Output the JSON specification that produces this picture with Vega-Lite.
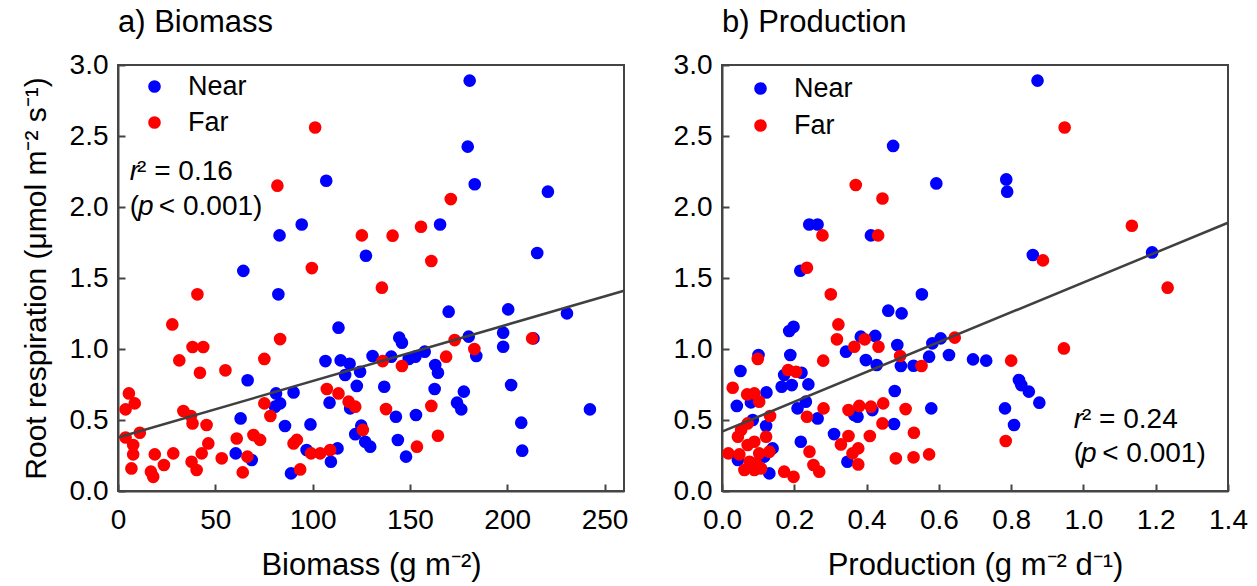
{
  "$schema": "https://vega.github.io/schema/vega-lite/v6.json",
  "background": "white",
  "padding": {"left": 20, "top": 6, "right": 5, "bottom": 2},
  "config": {
    "font": "Liberation Sans",
    "view": {"stroke": "#444444", "strokeWidth": 2},
    "axis": {"domainColor": "#444444", "domainWidth": 2, "tickColor": "#444444", "tickWidth": 2, "labelFontSize": 28, "labelColor": "black", "titleFontSize": 30, "titleFontWeight": "normal", "titleColor": "black", "grid": false, "labelFlush": false, "labelOverlap": false},
    "title": {"fontSize": 31, "fontWeight": "normal", "anchor": "start", "frame": "group", "color": "black"},
    "legend": {"labelFontSize": 27, "labelColor": "black"}
  },
  "datasets": {
    "bio": [
      {"b": 107, "r": 2.185, "g": "Near"}, {"b": 94.4, "r": 1.877, "g": "Near"}, {"b": 83, "r": 1.8, "g": "Near"}, {"b": 127.4, "r": 1.657, "g": "Near"}, {"b": 64.4, "r": 1.55, "g": "Near"},
      {"b": 180.7, "r": 2.89, "g": "Near"}, {"b": 179.7, "r": 2.425, "g": "Near"}, {"b": 183.3, "r": 2.16, "g": "Near"}, {"b": 220.9, "r": 2.108, "g": "Near"}, {"b": 165.5, "r": 1.877, "g": "Near"},
      {"b": 215.4, "r": 1.676, "g": "Near"}, {"b": 82.4, "r": 1.385, "g": "Near"}, {"b": 113.3, "r": 1.15, "g": "Near"}, {"b": 106.6, "r": 0.915, "g": "Near"}, {"b": 114.4, "r": 0.92, "g": "Near"},
      {"b": 119, "r": 0.896, "g": "Near"}, {"b": 116.7, "r": 0.817, "g": "Near"}, {"b": 124.4, "r": 0.84, "g": "Near"}, {"b": 122.7, "r": 0.74, "g": "Near"}, {"b": 119.3, "r": 0.582, "g": "Near"},
      {"b": 108.7, "r": 0.622, "g": "Near"}, {"b": 66.6, "r": 0.78, "g": "Near"}, {"b": 81.2, "r": 0.687, "g": "Near"}, {"b": 83.3, "r": 0.617, "g": "Near"}, {"b": 90.2, "r": 0.694, "g": "Near"},
      {"b": 80.7, "r": 0.594, "g": "Near"}, {"b": 63, "r": 0.511, "g": "Near"}, {"b": 85.8, "r": 0.458, "g": "Near"}, {"b": 98.9, "r": 0.469, "g": "Near"}, {"b": 125, "r": 0.46, "g": "Near"},
      {"b": 121.9, "r": 0.4, "g": "Near"}, {"b": 127, "r": 0.347, "g": "Near"}, {"b": 129.6, "r": 0.312, "g": "Near"}, {"b": 60.5, "r": 0.265, "g": "Near"}, {"b": 68.7, "r": 0.218, "g": "Near"},
      {"b": 88.9, "r": 0.124, "g": "Near"}, {"b": 96.9, "r": 0.289, "g": "Near"}, {"b": 112.8, "r": 0.3, "g": "Near"}, {"b": 109.4, "r": 0.206, "g": "Near"}, {"b": 169.9, "r": 1.263, "g": "Near"},
      {"b": 200.5, "r": 1.279, "g": "Near"}, {"b": 230.7, "r": 1.251, "g": "Near"}, {"b": 213.5, "r": 1.075, "g": "Near"}, {"b": 144.5, "r": 1.08, "g": "Near"}, {"b": 145.9, "r": 1.044, "g": "Near"},
      {"b": 180.2, "r": 1.087, "g": "Near"}, {"b": 184.1, "r": 0.951, "g": "Near"}, {"b": 197.9, "r": 1.115, "g": "Near"}, {"b": 197.9, "r": 1.016, "g": "Near"}, {"b": 130.8, "r": 0.951, "g": "Near"},
      {"b": 140.4, "r": 0.946, "g": "Near"}, {"b": 149.4, "r": 0.93, "g": "Near"}, {"b": 152.8, "r": 0.946, "g": "Near"}, {"b": 157.6, "r": 0.981, "g": "Near"}, {"b": 163, "r": 0.887, "g": "Near"},
      {"b": 164.4, "r": 0.833, "g": "Near"}, {"b": 136.8, "r": 0.734, "g": "Near"}, {"b": 162.7, "r": 0.718, "g": "Near"}, {"b": 177.7, "r": 0.7, "g": "Near"}, {"b": 202, "r": 0.746, "g": "Near"},
      {"b": 174.2, "r": 0.622, "g": "Near"}, {"b": 176.4, "r": 0.575, "g": "Near"}, {"b": 142.8, "r": 0.523, "g": "Near"}, {"b": 153.1, "r": 0.535, "g": "Near"}, {"b": 242.5, "r": 0.575, "g": "Near"},
      {"b": 207.2, "r": 0.481, "g": "Near"}, {"b": 207.7, "r": 0.284, "g": "Near"}, {"b": 143.8, "r": 0.359, "g": "Near"}, {"b": 148, "r": 0.242, "g": "Near"},
      {"b": 101.3, "r": 2.56, "g": "Far"}, {"b": 81.9, "r": 2.15, "g": "Far"}, {"b": 125.3, "r": 1.8, "g": "Far"}, {"b": 99.6, "r": 1.57, "g": "Far"}, {"b": 171, "r": 2.056, "g": "Far"},
      {"b": 155.7, "r": 1.861, "g": "Far"}, {"b": 141.1, "r": 1.798, "g": "Far"}, {"b": 161, "r": 1.62, "g": "Far"}, {"b": 135.6, "r": 1.432, "g": "Far"}, {"b": 40.8, "r": 1.385, "g": "Far"},
      {"b": 27.9, "r": 1.173, "g": "Far"}, {"b": 83.3, "r": 1.07, "g": "Far"}, {"b": 38.3, "r": 1.014, "g": "Far"}, {"b": 43.8, "r": 1.014, "g": "Far"}, {"b": 31.5, "r": 0.92, "g": "Far"},
      {"b": 75.2, "r": 0.93, "g": "Far"}, {"b": 42.1, "r": 0.833, "g": "Far"}, {"b": 55.2, "r": 0.85, "g": "Far"}, {"b": 107.3, "r": 0.718, "g": "Far"}, {"b": 113.3, "r": 0.687, "g": "Far"},
      {"b": 118.5, "r": 0.629, "g": "Far"}, {"b": 121.9, "r": 0.594, "g": "Far"}, {"b": 75.2, "r": 0.617, "g": "Far"}, {"b": 78.3, "r": 0.528, "g": "Far"}, {"b": 125.8, "r": 0.43, "g": "Far"},
      {"b": 5.6, "r": 0.687, "g": "Far"}, {"b": 8.6, "r": 0.617, "g": "Far"}, {"b": 3.9, "r": 0.575, "g": "Far"}, {"b": 33.6, "r": 0.563, "g": "Far"}, {"b": 37.5, "r": 0.528, "g": "Far"},
      {"b": 38.3, "r": 0.476, "g": "Far"}, {"b": 45.5, "r": 0.465, "g": "Far"}, {"b": 11.2, "r": 0.41, "g": "Far"}, {"b": 3.9, "r": 0.377, "g": "Far"}, {"b": 7.8, "r": 0.324, "g": "Far"},
      {"b": 7.8, "r": 0.258, "g": "Far"}, {"b": 6.9, "r": 0.159, "g": "Far"}, {"b": 18.9, "r": 0.258, "g": "Far"}, {"b": 23.6, "r": 0.183, "g": "Far"}, {"b": 28.4, "r": 0.265, "g": "Far"},
      {"b": 16.9, "r": 0.136, "g": "Far"}, {"b": 18.1, "r": 0.1, "g": "Far"}, {"b": 37.8, "r": 0.206, "g": "Far"}, {"b": 40.4, "r": 0.148, "g": "Far"}, {"b": 43, "r": 0.265, "g": "Far"},
      {"b": 46.4, "r": 0.335, "g": "Far"}, {"b": 53.3, "r": 0.23, "g": "Far"}, {"b": 61, "r": 0.37, "g": "Far"}, {"b": 64.1, "r": 0.131, "g": "Far"}, {"b": 66.5, "r": 0.242, "g": "Far"},
      {"b": 69.6, "r": 0.394, "g": "Far"}, {"b": 73, "r": 0.36, "g": "Far"}, {"b": 90.2, "r": 0.335, "g": "Far"}, {"b": 91.9, "r": 0.36, "g": "Far"}, {"b": 93.6, "r": 0.152, "g": "Far"},
      {"b": 99.2, "r": 0.265, "g": "Far"}, {"b": 103.9, "r": 0.265, "g": "Far"}, {"b": 109, "r": 0.289, "g": "Far"}, {"b": 212.8, "r": 1.075, "g": "Far"}, {"b": 173, "r": 1.063, "g": "Far"},
      {"b": 183.1, "r": 1.0, "g": "Far"}, {"b": 136, "r": 0.915, "g": "Far"}, {"b": 145.9, "r": 0.88, "g": "Far"}, {"b": 168.6, "r": 0.946, "g": "Far"}, {"b": 161, "r": 0.599, "g": "Far"},
      {"b": 137.7, "r": 0.577, "g": "Far"}, {"b": 164.4, "r": 0.389, "g": "Far"}, {"b": 153.6, "r": 0.312, "g": "Far"}
    ],
    "prod": [
      {"p": 0.4735, "r": 2.43, "g": "Near"}, {"p": 0.593, "r": 2.166, "g": "Near"}, {"p": 0.2414, "r": 1.877, "g": "Near"}, {"p": 0.2644, "r": 1.877, "g": "Near"}, {"p": 0.412, "r": 1.8, "g": "Near"},
      {"p": 0.2166, "r": 1.551, "g": "Near"}, {"p": 0.873, "r": 2.89, "g": "Near"}, {"p": 0.7865, "r": 2.194, "g": "Near"}, {"p": 0.789, "r": 2.108, "g": "Near"}, {"p": 0.86, "r": 1.662, "g": "Near"},
      {"p": 1.19, "r": 1.68, "g": "Near"}, {"p": 0.6945, "r": 0.927, "g": "Near"}, {"p": 0.731, "r": 0.918, "g": "Near"}, {"p": 0.8216, "r": 0.782, "g": "Near"}, {"p": 0.828, "r": 0.746, "g": "Near"},
      {"p": 0.849, "r": 0.7, "g": "Near"}, {"p": 0.878, "r": 0.622, "g": "Near"}, {"p": 0.783, "r": 0.582, "g": "Near"}, {"p": 0.808, "r": 0.465, "g": "Near"}, {"p": 0.553, "r": 1.385, "g": "Near"},
      {"p": 0.46, "r": 1.27, "g": "Near"}, {"p": 0.497, "r": 1.251, "g": "Near"}, {"p": 0.186, "r": 1.127, "g": "Near"}, {"p": 0.198, "r": 1.157, "g": "Near"}, {"p": 0.384, "r": 1.087, "g": "Near"},
      {"p": 0.424, "r": 1.092, "g": "Near"}, {"p": 0.343, "r": 0.981, "g": "Near"}, {"p": 0.485, "r": 1.028, "g": "Near"}, {"p": 0.398, "r": 0.922, "g": "Near"}, {"p": 0.428, "r": 0.887, "g": "Near"},
      {"p": 0.495, "r": 0.88, "g": "Near"}, {"p": 0.53, "r": 0.882, "g": "Near"}, {"p": 0.573, "r": 0.946, "g": "Near"}, {"p": 0.582, "r": 1.04, "g": "Near"}, {"p": 0.605, "r": 1.075, "g": "Near"},
      {"p": 0.628, "r": 0.958, "g": "Near"}, {"p": 0.579, "r": 0.582, "g": "Near"}, {"p": 0.478, "r": 0.704, "g": "Near"}, {"p": 0.476, "r": 0.472, "g": "Near"}, {"p": 0.416, "r": 0.57, "g": "Near"},
      {"p": 0.366, "r": 0.535, "g": "Near"}, {"p": 0.375, "r": 0.523, "g": "Near"}, {"p": 0.347, "r": 0.206, "g": "Near"}, {"p": 0.31, "r": 0.401, "g": "Near"}, {"p": 0.2646, "r": 0.511, "g": "Near"},
      {"p": 0.232, "r": 0.629, "g": "Near"}, {"p": 0.209, "r": 0.582, "g": "Near"}, {"p": 0.218, "r": 0.347, "g": "Near"}, {"p": 0.239, "r": 0.751, "g": "Near"}, {"p": 0.22, "r": 0.833, "g": "Near"},
      {"p": 0.172, "r": 0.817, "g": "Near"}, {"p": 0.165, "r": 0.734, "g": "Near"}, {"p": 0.193, "r": 0.746, "g": "Near"}, {"p": 0.189, "r": 0.958, "g": "Near"}, {"p": 0.101, "r": 0.958, "g": "Near"},
      {"p": 0.051, "r": 0.845, "g": "Near"}, {"p": 0.041, "r": 0.599, "g": "Near"}, {"p": 0.08, "r": 0.624, "g": "Near"}, {"p": 0.123, "r": 0.694, "g": "Near"}, {"p": 0.122, "r": 0.458, "g": "Near"},
      {"p": 0.085, "r": 0.5, "g": "Near"}, {"p": 0.14, "r": 0.3, "g": "Near"}, {"p": 0.044, "r": 0.218, "g": "Near"}, {"p": 0.117, "r": 0.242, "g": "Near"}, {"p": 0.131, "r": 0.124, "g": "Near"},
      {"p": 0.37, "r": 2.155, "g": "Far"}, {"p": 0.444, "r": 2.06, "g": "Far"}, {"p": 0.278, "r": 1.8, "g": "Far"}, {"p": 0.432, "r": 1.8, "g": "Far"}, {"p": 0.235, "r": 1.572, "g": "Far"},
      {"p": 0.948, "r": 2.56, "g": "Far"}, {"p": 1.134, "r": 1.868, "g": "Far"}, {"p": 0.888, "r": 1.624, "g": "Far"}, {"p": 1.233, "r": 1.432, "g": "Far"}, {"p": 0.946, "r": 1.004, "g": "Far"},
      {"p": 0.8, "r": 0.918, "g": "Far"}, {"p": 0.785, "r": 0.352, "g": "Far"}, {"p": 0.301, "r": 1.385, "g": "Far"}, {"p": 0.322, "r": 1.173, "g": "Far"}, {"p": 0.318, "r": 1.068, "g": "Far"},
      {"p": 0.395, "r": 1.068, "g": "Far"}, {"p": 0.433, "r": 1.016, "g": "Far"}, {"p": 0.366, "r": 1.016, "g": "Far"}, {"p": 0.493, "r": 0.951, "g": "Far"}, {"p": 0.552, "r": 0.88, "g": "Far"},
      {"p": 0.644, "r": 1.08, "g": "Far"}, {"p": 0.444, "r": 0.476, "g": "Far"}, {"p": 0.508, "r": 0.577, "g": "Far"}, {"p": 0.531, "r": 0.41, "g": "Far"}, {"p": 0.481, "r": 0.23, "g": "Far"},
      {"p": 0.53, "r": 0.237, "g": "Far"}, {"p": 0.573, "r": 0.258, "g": "Far"}, {"p": 0.446, "r": 0.617, "g": "Far"}, {"p": 0.412, "r": 0.594, "g": "Far"}, {"p": 0.38, "r": 0.599, "g": "Far"},
      {"p": 0.35, "r": 0.57, "g": "Far"}, {"p": 0.409, "r": 0.387, "g": "Far"}, {"p": 0.35, "r": 0.387, "g": "Far"}, {"p": 0.329, "r": 0.328, "g": "Far"}, {"p": 0.377, "r": 0.3, "g": "Far"},
      {"p": 0.361, "r": 0.265, "g": "Far"}, {"p": 0.377, "r": 0.187, "g": "Far"}, {"p": 0.281, "r": 0.582, "g": "Far"}, {"p": 0.28, "r": 0.918, "g": "Far"}, {"p": 0.235, "r": 0.523, "g": "Far"},
      {"p": 0.242, "r": 0.277, "g": "Far"}, {"p": 0.253, "r": 0.183, "g": "Far"}, {"p": 0.269, "r": 0.136, "g": "Far"}, {"p": 0.172, "r": 0.136, "g": "Far"}, {"p": 0.198, "r": 0.1, "g": "Far"},
      {"p": 0.183, "r": 0.852, "g": "Far"}, {"p": 0.205, "r": 0.84, "g": "Far"}, {"p": 0.099, "r": 0.93, "g": "Far"}, {"p": 0.0296, "r": 0.727, "g": "Far"}, {"p": 0.0696, "r": 0.68, "g": "Far"},
      {"p": 0.0895, "r": 0.687, "g": "Far"}, {"p": 0.103, "r": 0.629, "g": "Far"}, {"p": 0.133, "r": 0.528, "g": "Far"}, {"p": 0.071, "r": 0.476, "g": "Far"}, {"p": 0.053, "r": 0.43, "g": "Far"},
      {"p": 0.044, "r": 0.382, "g": "Far"}, {"p": 0.122, "r": 0.382, "g": "Far"}, {"p": 0.0895, "r": 0.347, "g": "Far"}, {"p": 0.071, "r": 0.324, "g": "Far"}, {"p": 0.131, "r": 0.277, "g": "Far"},
      {"p": 0.0177, "r": 0.265, "g": "Far"}, {"p": 0.048, "r": 0.258, "g": "Far"}, {"p": 0.103, "r": 0.265, "g": "Far"}, {"p": 0.062, "r": 0.148, "g": "Far"}, {"p": 0.0895, "r": 0.148, "g": "Far"},
      {"p": 0.108, "r": 0.159, "g": "Far"}, {"p": 0.076, "r": 0.206, "g": "Far"}, {"p": 0.094, "r": 0.194, "g": "Far"}
    ],
    "lineA": [{"b": 0, "r": 0.377}, {"b": 260, "r": 1.41}],
    "lineB": [{"p": 0, "r": 0.418}, {"p": 1.4, "r": 1.889}],
    "annA": [
      {"b": 6.1, "r": 2.19, "t": "r", "it": true},
      {"b": 9.8, "r": 2.19, "t": "² = 0.16", "it": false},
      {"b": 6.1, "r": 1.944, "t": "(", "it": false},
      {"b": 10.3, "r": 1.944, "t": "p", "it": true},
      {"b": 21.0, "r": 1.944, "t": "< 0.001)", "it": false}
    ],
    "annB": [
      {"p": 0.9735, "r": 0.441, "t": "r", "it": true},
      {"p": 0.996, "r": 0.441, "t": "² = 0.24", "it": false},
      {"p": 0.9735, "r": 0.206, "t": "(", "it": false},
      {"p": 0.993, "r": 0.206, "t": "p", "it": true},
      {"p": 1.052, "r": 0.206, "t": "< 0.001)", "it": false}
    ]
  },
  "spacing": 42,
  "resolve": {"scale": {"x": "independent", "y": "independent", "color": "shared"}, "legend": {"color": "independent"}},
  "hconcat": [
    {
      "width": 506,
      "height": 426,
      "title": {"text": "a) Biomass", "offset": 12},
      "layer": [
        {
          "data": {"name": "bio"},
          "mark": {"type": "circle", "size": 160, "opacity": 1},
          "encoding": {
            "x": {"field": "b", "type": "quantitative", "scale": {"domain": [0, 260], "nice": false, "zero": false},
                  "axis": {"title": "Biomass (g m⁻²)", "titleFontSize": 31, "values": [0, 50, 100, 150, 200, 250], "tickSize": -7, "labelPadding": 22, "titlePadding": 16}},
            "y": {"field": "r", "type": "quantitative", "scale": {"domain": [0, 3], "nice": false, "zero": false},
                  "axis": {"title": "Root respiration (μmol m⁻² s⁻¹)", "values": [0, 0.5, 1, 1.5, 2, 2.5, 3], "format": ".1f", "tickSize": -7, "labelPadding": 17, "titlePadding": 18}},
            "color": {"field": "g", "type": "nominal", "scale": {"domain": ["Near", "Far"], "range": ["#0000ff", "#ff0000"]},
                      "legend": {"orient": "none", "legendX": 23, "legendY": 8, "title": null, "padding": 0, "symbolSize": 160, "symbolType": "circle", "symbolStrokeWidth": 0, "rowPadding": 8, "labelOffset": 20}},
            "order": {"field": "g", "sort": "descending"}
          }
        },
        {
          "data": {"name": "lineA"},
          "mark": {"type": "line", "color": "#404040", "strokeWidth": 2.5},
          "encoding": {"x": {"field": "b", "type": "quantitative"}, "y": {"field": "r", "type": "quantitative"}}
        },
        {
          "data": {"name": "annA"},
          "transform": [{"filter": "datum.it"}],
          "mark": {"type": "text", "align": "left", "baseline": "alphabetic", "fontSize": 28, "fontStyle": "italic", "color": "black"},
          "encoding": {"x": {"field": "b", "type": "quantitative"}, "y": {"field": "r", "type": "quantitative"}, "text": {"field": "t"}}
        },
        {
          "data": {"name": "annA"},
          "transform": [{"filter": "!datum.it"}],
          "mark": {"type": "text", "align": "left", "baseline": "alphabetic", "fontSize": 28, "color": "black"},
          "encoding": {"x": {"field": "b", "type": "quantitative"}, "y": {"field": "r", "type": "quantitative"}, "text": {"field": "t"}}
        }
      ]
    },
    {
      "width": 506,
      "height": 426,
      "title": {"text": "b) Production", "offset": 12},
      "layer": [
        {
          "data": {"name": "prod"},
          "mark": {"type": "circle", "size": 160, "opacity": 1},
          "encoding": {
            "x": {"field": "p", "type": "quantitative", "scale": {"domain": [0, 1.4], "nice": false, "zero": false},
                  "axis": {"title": "Production (g m⁻² d⁻¹)", "titleFontSize": 31, "values": [0, 0.2, 0.4, 0.6, 0.8, 1.0, 1.2, 1.4], "format": ".1f", "tickSize": -7, "labelPadding": 22, "titlePadding": 16}},
            "y": {"field": "r", "type": "quantitative", "scale": {"domain": [0, 3], "nice": false, "zero": false},
                  "axis": {"title": null, "values": [0, 0.5, 1, 1.5, 2, 2.5, 3], "format": ".1f", "tickSize": -7, "labelPadding": 17}},
            "color": {"field": "g", "type": "nominal", "scale": {"domain": ["Near", "Far"], "range": ["#0000ff", "#ff0000"]},
                      "legend": {"orient": "none", "legendX": 25, "legendY": 10, "title": null, "padding": 0, "symbolSize": 160, "symbolType": "circle", "symbolStrokeWidth": 0, "rowPadding": 9, "labelOffset": 20}},
            "order": {"field": "g", "sort": "descending"}
          }
        },
        {
          "data": {"name": "lineB"},
          "mark": {"type": "line", "color": "#404040", "strokeWidth": 2.5},
          "encoding": {"x": {"field": "p", "type": "quantitative"}, "y": {"field": "r", "type": "quantitative"}}
        },
        {
          "data": {"name": "annB"},
          "transform": [{"filter": "datum.it"}],
          "mark": {"type": "text", "align": "left", "baseline": "alphabetic", "fontSize": 28, "fontStyle": "italic", "color": "black"},
          "encoding": {"x": {"field": "p", "type": "quantitative"}, "y": {"field": "r", "type": "quantitative"}, "text": {"field": "t"}}
        },
        {
          "data": {"name": "annB"},
          "transform": [{"filter": "!datum.it"}],
          "mark": {"type": "text", "align": "left", "baseline": "alphabetic", "fontSize": 28, "color": "black"},
          "encoding": {"x": {"field": "p", "type": "quantitative"}, "y": {"field": "r", "type": "quantitative"}, "text": {"field": "t"}}
        }
      ]
    }
  ]
}
